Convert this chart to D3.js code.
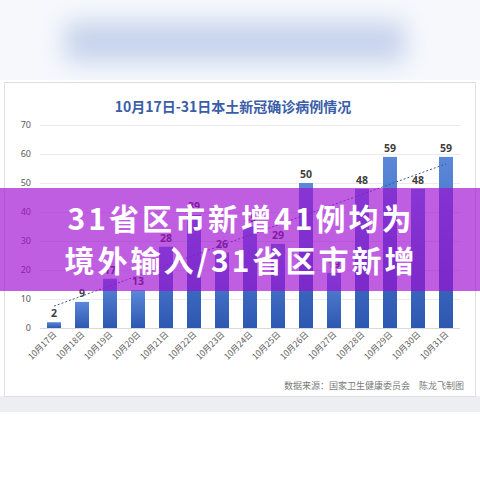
<!DOCTYPE html>
<html>
<head>
<meta charset="utf-8">
<script src="https://cdn.jsdelivr.net/npm/d3@7"></script>
<style>
  html, body { margin: 0; padding: 0; background: #ffffff; }
  svg { display: block; }
  text { font-family: "Noto Sans CJK SC", "Noto Sans", sans-serif; }
</style>
</head>
<body>
<div id="chart"></div>
<script>
// ---- data ----
const title = "10月17日-31日本土新冠确诊病例情况";
const dates = ["10月17日","10月18日","10月19日","10月20日","10月21日","10月22日","10月23日","10月24日","10月25日","10月26日","10月27日","10月28日","10月29日","10月30日","10月31日"];
const cases = [2, 9, 17, 13, 28, 39, 26, 35, 29, 50, 19, 48, 59, 48, 59];
const yTicks = [0, 10, 20, 30, 40, 50, 60, 70];
const sourceNote = "数据来源：国家卫生健康委员会　陈龙飞制图";
const bannerLines = ["31省区市新增41例均为", "境外输入/31省区市新增"];

const W = 480, H = 480;
const svg = d3.select("#chart").append("svg").attr("width", W).attr("height", H);
const defs = svg.append("defs");

const blur = defs.append("filter").attr("id", "blur").attr("x", "-50%").attr("y", "-100%").attr("width", "200%").attr("height", "300%");
blur.append("feGaussianBlur").attr("stdDeviation", 12);

const grad = defs.append("linearGradient").attr("id", "barGrad").attr("x1", 0).attr("y1", 0).attr("x2", 0).attr("y2", 1);
grad.append("stop").attr("offset", "0%").attr("stop-color", "#5b88d8");
grad.append("stop").attr("offset", "100%").attr("stop-color", "#2c58b2");

// blurred header area
svg.append("rect").attr("x", 0).attr("y", 0).attr("width", W).attr("height", 80).attr("fill", "#f6f8fc");
svg.append("rect").attr("x", 65).attr("y", 22).attr("width", 340).attr("height", 40)
  .attr("fill", "#c6d3ec").attr("filter", "url(#blur)");

// gray strip below card
svg.append("rect").attr("x", 0).attr("y", 396).attr("width", W).attr("height", 16).attr("fill", "#eceef2");

// card
svg.append("rect").attr("x", 4.5).attr("y", 82.5).attr("width", 471).attr("height", 314)
  .attr("fill", "#ffffff").attr("stroke", "#dedfe3");

// title
svg.append("text").attr("x", 233).attr("y", 112).attr("text-anchor", "middle")
  .attr("font-size", 14).attr("font-weight", "bold").attr("fill", "#3a5ea8").text(title);

// scales
const x = d3.scaleBand().domain(dates).range([40, 460]).paddingInner(0.5).paddingOuter(0.25);
const y = d3.scaleLinear().domain([0, 70]).range([328, 125]);

// gridlines
svg.append("g").selectAll("line").data(yTicks).join("line")
  .attr("x1", 40).attr("x2", 460)
  .attr("y1", d => y(d) + 0.5).attr("y2", d => y(d) + 0.5)
  .attr("stroke", d => d === 0 ? "#d9d9d9" : "#ebebeb").attr("stroke-width", 1);

// y axis labels
const yAxis = d3.axisLeft(y).tickValues(yTicks).tickSize(0).tickPadding(0);
const gy = svg.append("g").attr("transform", "translate(31,0)").call(yAxis);
gy.select(".domain").remove();
gy.selectAll("text").attr("font-size", 9).attr("fill", "#595959")
  .style("font-family", "'Noto Sans', sans-serif");

// bars
svg.append("g").selectAll("rect").data(cases).join("rect")
  .attr("x", (d, i) => x(dates[i]))
  .attr("y", d => y(d))
  .attr("width", x.bandwidth())
  .attr("height", d => y(0) - y(d))
  .attr("fill", "url(#barGrad)");

// value labels
svg.append("g").selectAll("text").data(cases).join("text")
  .attr("x", (d, i) => x(dates[i]) + x.bandwidth() / 2)
  .attr("y", d => y(d) - 5)
  .attr("text-anchor", "middle")
  .attr("font-size", 10.5).attr("font-weight", "bold").attr("fill", "#404040")
  .style("font-family", "'Noto Sans', sans-serif")
  .text(d => d);

// linear trend line (least squares on the data)
const n = cases.length;
const mx = d3.mean(cases, (d, i) => i), my = d3.mean(cases);
const slope = d3.sum(cases, (d, i) => (i - mx) * (d - my)) / d3.sum(cases, (d, i) => (i - mx) * (i - mx));
const icpt = my - slope * mx;
const cx = i => x(dates[i]) + x.bandwidth() / 2;
svg.append("line")
  .attr("x1", cx(0)).attr("y1", y(icpt))
  .attr("x2", cx(n - 1)).attr("y2", y(icpt + slope * (n - 1)))
  .attr("stroke", "#3b5b9c").attr("stroke-width", 1).attr("stroke-dasharray", "2,2");

// x labels (rotated)
svg.append("g").selectAll("text").data(dates).join("text")
  .attr("transform", d => `translate(${x(d) + x.bandwidth() / 2 + 3},${335}) rotate(-45)`)
  .attr("text-anchor", "end")
  .attr("font-size", 8.5).attr("fill", "#595959")
  .text(d => d);

// source note
svg.append("text").attr("x", 464).attr("y", 389).attr("text-anchor", "end")
  .attr("font-size", 9).attr("fill", "#7a7a7a").text(sourceNote);

// purple banner overlay
svg.append("rect").attr("x", 0).attr("y", 188).attr("width", W).attr("height", 103)
  .attr("fill", "rgb(160,10,210)").attr("opacity", 0.66);
svg.append("g").selectAll("text").data(bannerLines).join("text")
  .attr("x", 241).attr("y", (d, i) => 230 + i * 42)
  .attr("text-anchor", "middle")
  .attr("font-size", 30).attr("font-weight", "bold").attr("fill", "#ffffff")
  .attr("letter-spacing", 3)
  .text(d => d);
</script>
</body>
</html>
